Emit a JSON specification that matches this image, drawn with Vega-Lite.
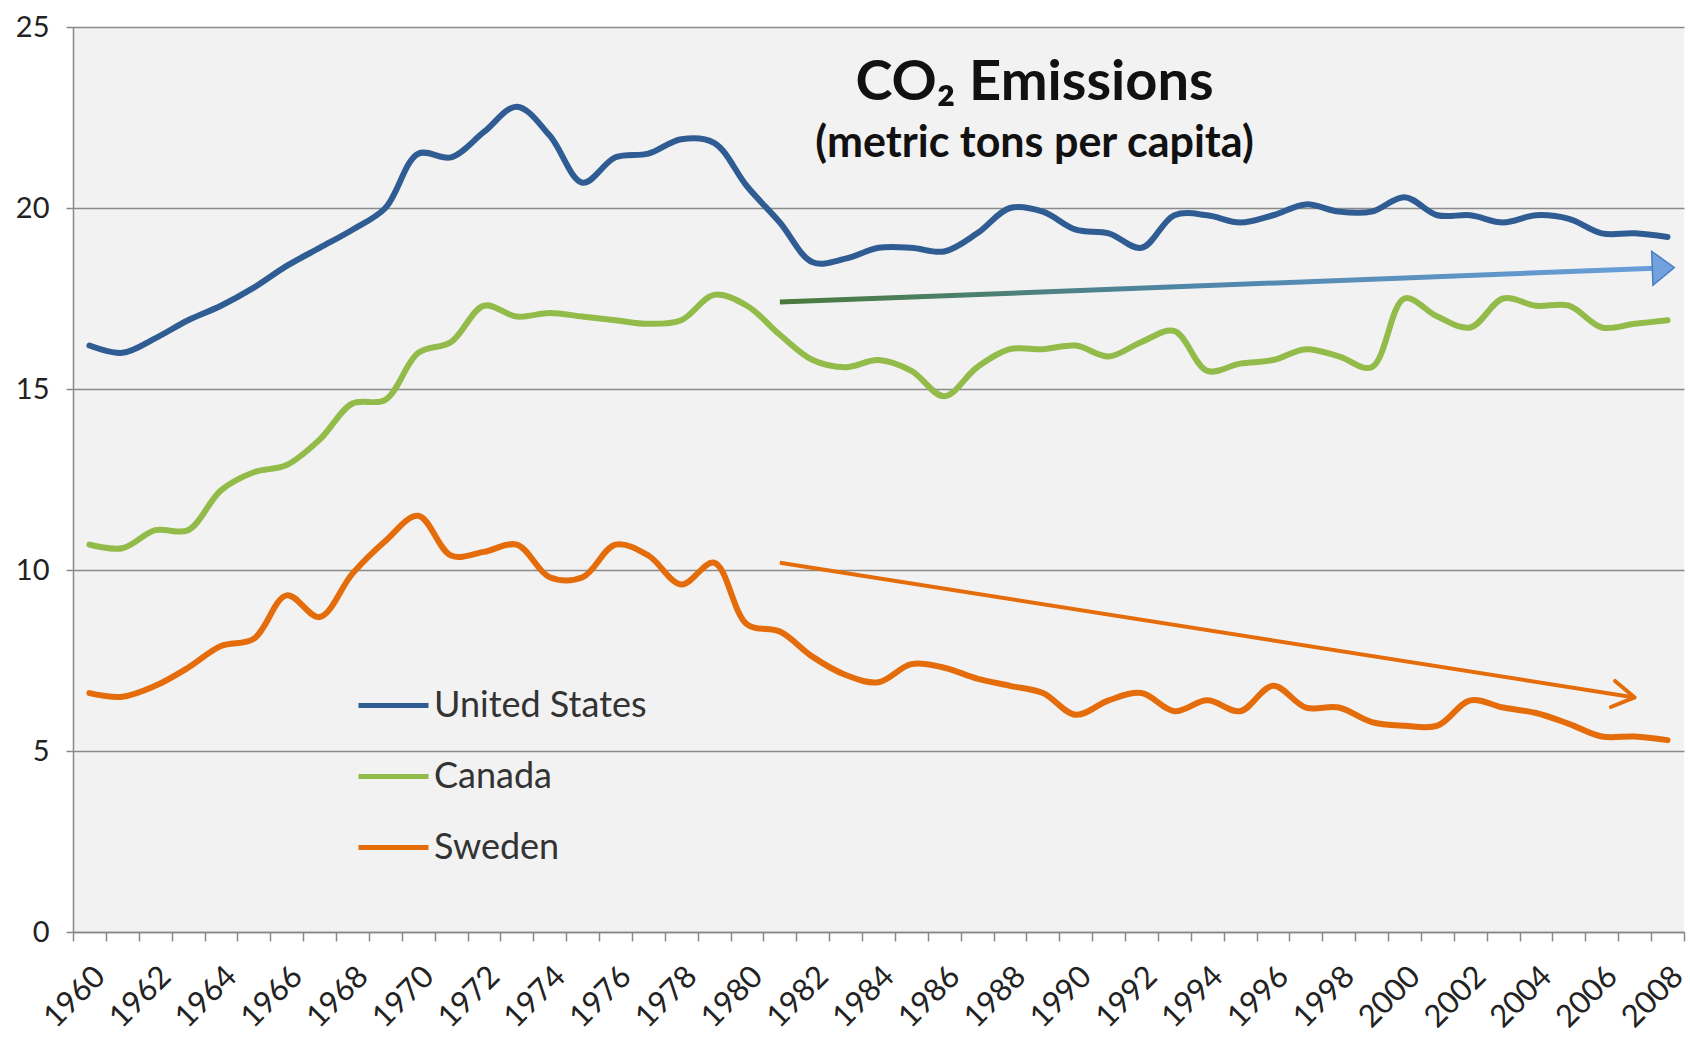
{
  "$schema": "https://vega.github.io/schema/vega-lite/v6.json",
  "width": 1611,
  "height": 905,
  "autosize": {"type": "none"},
  "padding": {"left": 73, "top": 27, "right": 6, "bottom": 106},
  "background": "white",
  "title": {
    "text": "CO₂ Emissions",
    "subtitle": "(metric tons per capita)",
    "anchor": "middle",
    "frame": "group",
    "font": "Lato",
    "fontSize": 56,
    "fontWeight": "bold",
    "color": "#111111",
    "subtitleFont": "Lato",
    "subtitleFontSize": 43,
    "subtitleFontWeight": "bold",
    "subtitleColor": "#111111",
    "subtitlePadding": 11,
    "offset": 4,
    "dx": 156,
    "dy": 158
  },
  "config": {
    "view": {"fill": "#f2f2f2", "stroke": null},
    "font": "Lato"
  },
  "datasets": {
    "emissions": [
      {"year": "1960", "country": "United States", "value": 16.2},
      {"year": "1961", "country": "United States", "value": 16.0},
      {"year": "1962", "country": "United States", "value": 16.4},
      {"year": "1963", "country": "United States", "value": 16.9},
      {"year": "1964", "country": "United States", "value": 17.3},
      {"year": "1965", "country": "United States", "value": 17.8},
      {"year": "1966", "country": "United States", "value": 18.4},
      {"year": "1967", "country": "United States", "value": 18.9},
      {"year": "1968", "country": "United States", "value": 19.4},
      {"year": "1969", "country": "United States", "value": 20.0},
      {"year": "1970", "country": "United States", "value": 21.5},
      {"year": "1971", "country": "United States", "value": 21.4},
      {"year": "1972", "country": "United States", "value": 22.1},
      {"year": "1973", "country": "United States", "value": 22.8},
      {"year": "1974", "country": "United States", "value": 22.0},
      {"year": "1975", "country": "United States", "value": 20.7},
      {"year": "1976", "country": "United States", "value": 21.4},
      {"year": "1977", "country": "United States", "value": 21.5},
      {"year": "1978", "country": "United States", "value": 21.9},
      {"year": "1979", "country": "United States", "value": 21.8},
      {"year": "1980", "country": "United States", "value": 20.6},
      {"year": "1981", "country": "United States", "value": 19.6},
      {"year": "1982", "country": "United States", "value": 18.5},
      {"year": "1983", "country": "United States", "value": 18.6},
      {"year": "1984", "country": "United States", "value": 18.9},
      {"year": "1985", "country": "United States", "value": 18.9},
      {"year": "1986", "country": "United States", "value": 18.8},
      {"year": "1987", "country": "United States", "value": 19.3},
      {"year": "1988", "country": "United States", "value": 20.0},
      {"year": "1989", "country": "United States", "value": 19.9},
      {"year": "1990", "country": "United States", "value": 19.4},
      {"year": "1991", "country": "United States", "value": 19.3},
      {"year": "1992", "country": "United States", "value": 18.9},
      {"year": "1993", "country": "United States", "value": 19.8},
      {"year": "1994", "country": "United States", "value": 19.8},
      {"year": "1995", "country": "United States", "value": 19.6},
      {"year": "1996", "country": "United States", "value": 19.8},
      {"year": "1997", "country": "United States", "value": 20.1},
      {"year": "1998", "country": "United States", "value": 19.9},
      {"year": "1999", "country": "United States", "value": 19.9},
      {"year": "2000", "country": "United States", "value": 20.3},
      {"year": "2001", "country": "United States", "value": 19.8},
      {"year": "2002", "country": "United States", "value": 19.8},
      {"year": "2003", "country": "United States", "value": 19.6},
      {"year": "2004", "country": "United States", "value": 19.8},
      {"year": "2005", "country": "United States", "value": 19.7},
      {"year": "2006", "country": "United States", "value": 19.3},
      {"year": "2007", "country": "United States", "value": 19.3},
      {"year": "2008", "country": "United States", "value": 19.2},
      {"year": "1960", "country": "Canada", "value": 10.7},
      {"year": "1961", "country": "Canada", "value": 10.6},
      {"year": "1962", "country": "Canada", "value": 11.1},
      {"year": "1963", "country": "Canada", "value": 11.1},
      {"year": "1964", "country": "Canada", "value": 12.2},
      {"year": "1965", "country": "Canada", "value": 12.7},
      {"year": "1966", "country": "Canada", "value": 12.9},
      {"year": "1967", "country": "Canada", "value": 13.6},
      {"year": "1968", "country": "Canada", "value": 14.6},
      {"year": "1969", "country": "Canada", "value": 14.7},
      {"year": "1970", "country": "Canada", "value": 16.0},
      {"year": "1971", "country": "Canada", "value": 16.3},
      {"year": "1972", "country": "Canada", "value": 17.3},
      {"year": "1973", "country": "Canada", "value": 17.0},
      {"year": "1974", "country": "Canada", "value": 17.1},
      {"year": "1975", "country": "Canada", "value": 17.0},
      {"year": "1976", "country": "Canada", "value": 16.9},
      {"year": "1977", "country": "Canada", "value": 16.8},
      {"year": "1978", "country": "Canada", "value": 16.9},
      {"year": "1979", "country": "Canada", "value": 17.6},
      {"year": "1980", "country": "Canada", "value": 17.3},
      {"year": "1981", "country": "Canada", "value": 16.5},
      {"year": "1982", "country": "Canada", "value": 15.8},
      {"year": "1983", "country": "Canada", "value": 15.6},
      {"year": "1984", "country": "Canada", "value": 15.8},
      {"year": "1985", "country": "Canada", "value": 15.5},
      {"year": "1986", "country": "Canada", "value": 14.8},
      {"year": "1987", "country": "Canada", "value": 15.6},
      {"year": "1988", "country": "Canada", "value": 16.1},
      {"year": "1989", "country": "Canada", "value": 16.1},
      {"year": "1990", "country": "Canada", "value": 16.2},
      {"year": "1991", "country": "Canada", "value": 15.9},
      {"year": "1992", "country": "Canada", "value": 16.3},
      {"year": "1993", "country": "Canada", "value": 16.6},
      {"year": "1994", "country": "Canada", "value": 15.5},
      {"year": "1995", "country": "Canada", "value": 15.7},
      {"year": "1996", "country": "Canada", "value": 15.8},
      {"year": "1997", "country": "Canada", "value": 16.1},
      {"year": "1998", "country": "Canada", "value": 15.9},
      {"year": "1999", "country": "Canada", "value": 15.6},
      {"year": "2000", "country": "Canada", "value": 17.5},
      {"year": "2001", "country": "Canada", "value": 17.0},
      {"year": "2002", "country": "Canada", "value": 16.7},
      {"year": "2003", "country": "Canada", "value": 17.5},
      {"year": "2004", "country": "Canada", "value": 17.3},
      {"year": "2005", "country": "Canada", "value": 17.3},
      {"year": "2006", "country": "Canada", "value": 16.7},
      {"year": "2007", "country": "Canada", "value": 16.8},
      {"year": "2008", "country": "Canada", "value": 16.9},
      {"year": "1960", "country": "Sweden", "value": 6.6},
      {"year": "1961", "country": "Sweden", "value": 6.5},
      {"year": "1962", "country": "Sweden", "value": 6.8},
      {"year": "1963", "country": "Sweden", "value": 7.3},
      {"year": "1964", "country": "Sweden", "value": 7.9},
      {"year": "1965", "country": "Sweden", "value": 8.1},
      {"year": "1966", "country": "Sweden", "value": 9.3},
      {"year": "1967", "country": "Sweden", "value": 8.7},
      {"year": "1968", "country": "Sweden", "value": 9.9},
      {"year": "1969", "country": "Sweden", "value": 10.8},
      {"year": "1970", "country": "Sweden", "value": 11.5},
      {"year": "1971", "country": "Sweden", "value": 10.4},
      {"year": "1972", "country": "Sweden", "value": 10.5},
      {"year": "1973", "country": "Sweden", "value": 10.7},
      {"year": "1974", "country": "Sweden", "value": 9.8},
      {"year": "1975", "country": "Sweden", "value": 9.8},
      {"year": "1976", "country": "Sweden", "value": 10.7},
      {"year": "1977", "country": "Sweden", "value": 10.4},
      {"year": "1978", "country": "Sweden", "value": 9.6},
      {"year": "1979", "country": "Sweden", "value": 10.2},
      {"year": "1980", "country": "Sweden", "value": 8.5},
      {"year": "1981", "country": "Sweden", "value": 8.3},
      {"year": "1982", "country": "Sweden", "value": 7.6},
      {"year": "1983", "country": "Sweden", "value": 7.1},
      {"year": "1984", "country": "Sweden", "value": 6.9},
      {"year": "1985", "country": "Sweden", "value": 7.4},
      {"year": "1986", "country": "Sweden", "value": 7.3},
      {"year": "1987", "country": "Sweden", "value": 7.0},
      {"year": "1988", "country": "Sweden", "value": 6.8},
      {"year": "1989", "country": "Sweden", "value": 6.6},
      {"year": "1990", "country": "Sweden", "value": 6.0},
      {"year": "1991", "country": "Sweden", "value": 6.4},
      {"year": "1992", "country": "Sweden", "value": 6.6},
      {"year": "1993", "country": "Sweden", "value": 6.1},
      {"year": "1994", "country": "Sweden", "value": 6.4},
      {"year": "1995", "country": "Sweden", "value": 6.1},
      {"year": "1996", "country": "Sweden", "value": 6.8},
      {"year": "1997", "country": "Sweden", "value": 6.2},
      {"year": "1998", "country": "Sweden", "value": 6.2},
      {"year": "1999", "country": "Sweden", "value": 5.8},
      {"year": "2000", "country": "Sweden", "value": 5.7},
      {"year": "2001", "country": "Sweden", "value": 5.7},
      {"year": "2002", "country": "Sweden", "value": 6.4},
      {"year": "2003", "country": "Sweden", "value": 6.2},
      {"year": "2004", "country": "Sweden", "value": 6.05},
      {"year": "2005", "country": "Sweden", "value": 5.75},
      {"year": "2006", "country": "Sweden", "value": 5.4},
      {"year": "2007", "country": "Sweden", "value": 5.4},
      {"year": "2008", "country": "Sweden", "value": 5.3}
    ],
    "trends": [
      {"trend": "North America", "fromYear": "1981", "toYear": "2008", "fromValue": 17.4, "toValue": 18.35},
      {"trend": "Sweden", "fromYear": "1981", "toYear": "2007", "fromValue": 10.2, "toValue": 6.48}
    ]
  },
  "layer": [
    {
      "data": {"name": "emissions"},
      "mark": {"type": "line", "strokeWidth": 6, "interpolate": "catmull-rom", "strokeCap": "round", "strokeJoin": "round"},
      "encoding": {
        "x": {
          "field": "year",
          "type": "ordinal",
          "scale": {"type": "band", "paddingInner": 0, "paddingOuter": 0},
          "axis": {
            "title": null,
            "labelAngle": -45,
            "labelFontSize": 31,
            "labelColor": "#222222",
            "labelFont": "Lato",
            "tickBand": "extent",
            "tickSize": 9,
            "tickColor": "#888888",
            "tickWidth": 1.5,
            "domainColor": "#888888",
            "domainWidth": 1.5,
            "labelPadding": 20,
            "labelOverlap": false,
            "labelExpr": "toNumber(datum.value) % 2 == 0 ? datum.value : ''",
            "grid": false
          }
        },
        "y": {
          "field": "value",
          "type": "quantitative",
          "scale": {"domain": [0, 25], "nice": false},
          "axis": {
            "title": null,
            "values": [0, 5, 10, 15, 20, 25],
            "grid": true,
            "gridColor": "#8a8a8a",
            "gridWidth": 1.5,
            "domainColor": "#888888",
            "domainWidth": 1.5,
            "tickColor": "#888888",
            "tickWidth": 1.5,
            "tickSize": 7,
            "labelFontSize": 29,
            "labelColor": "#222222",
            "labelFont": "Lato",
            "labelPadding": 17
          }
        },
        "color": {
          "field": "country",
          "type": "nominal",
          "scale": {
            "domain": ["United States", "Canada", "Sweden"],
            "range": ["#2f5c93", "#92bb4a", "#e46c0a"]
          },
          "legend": {
            "title": null,
            "orient": "none",
            "legendX": 283,
            "legendY": 641,
            "symbolType": "stroke",
            "symbolSize": 4900,
            "symbolStrokeWidth": 5,
            "labelFontSize": 36,
            "labelFont": "Lato",
            "labelColor": "#333333",
            "labelOffset": 3,
            "labelLimit": 0,
            "rowPadding": 15,
            "padding": 0
          }
        }
      }
    },
    {
      "data": {"name": "trends"},
      "transform": [{"filter": "datum.trend == 'North America'"}],
      "mark": {
        "type": "rule",
        "strokeWidth": 5,
        "stroke": {
          "gradient": "linear",
          "x1": 0, "y1": 0, "x2": 1, "y2": 0,
          "stops": [
            {"offset": 0, "color": "#4a7a3a"},
            {"offset": 0.45, "color": "#4f85a6"},
            {"offset": 1, "color": "#6b9fdc"}
          ]
        }
      },
      "encoding": {
        "x": {"field": "fromYear", "type": "ordinal"},
        "x2": {"field": "toYear"},
        "y": {"field": "fromValue", "type": "quantitative"},
        "y2": {"field": "toValue"}
      }
    },
    {
      "data": {"name": "trends"},
      "transform": [{"filter": "datum.trend == 'North America'"}],
      "mark": {
        "type": "point",
        "shape": "M-0.9,-1L0.4,0L-0.9,1Z",
        "size": 1150,
        "filled": true,
        "fill": "#72a2de",
        "stroke": "#4a7cc0",
        "strokeWidth": 1.5,
        "opacity": 1,
        "angle": -2.2
      },
      "encoding": {
        "x": {"field": "toYear", "type": "ordinal"},
        "y": {"field": "toValue", "type": "quantitative"}
      }
    },
    {
      "data": {"name": "trends"},
      "transform": [{"filter": "datum.trend == 'Sweden'"}],
      "mark": {"type": "rule", "strokeWidth": 4, "stroke": "#e46c0a"},
      "encoding": {
        "x": {"field": "fromYear", "type": "ordinal"},
        "x2": {"field": "toYear"},
        "y": {"field": "fromValue", "type": "quantitative"},
        "y2": {"field": "toValue"}
      }
    },
    {
      "data": {"name": "trends"},
      "transform": [{"filter": "datum.trend == 'Sweden'"}],
      "mark": {
        "type": "point",
        "shape": "M-1,-0.6L0,0L-1,0.6",
        "size": 1936,
        "filled": false,
        "stroke": "#e46c0a",
        "strokeWidth": 4,
        "strokeCap": "round",
        "strokeJoin": "round",
        "opacity": 1,
        "angle": 9
      },
      "encoding": {
        "x": {"field": "toYear", "type": "ordinal"},
        "y": {"field": "toValue", "type": "quantitative"}
      }
    }
  ]
}
